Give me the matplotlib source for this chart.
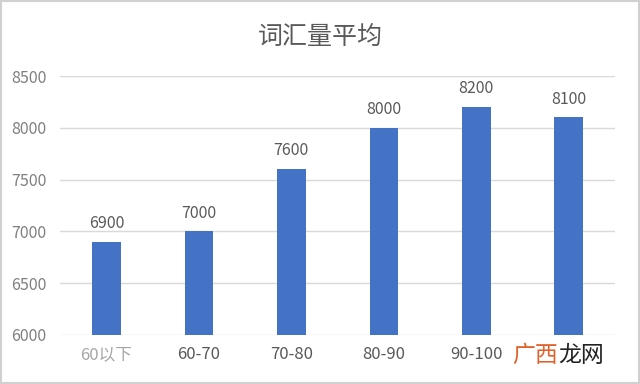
import matplotlib
matplotlib.use("Agg")
import matplotlib.pyplot as plt
from matplotlib.patches import Rectangle

plt.rcParams['font.family'] = ['Noto Sans CJK SC', 'DejaVu Sans']
plt.rcParams['font.weight'] = 'light'

# data
categories = ["60以下", "60-70", "70-80", "80-90", "90-100", "100以上"]
values = [6900, 7000, 7600, 8000, 8200, 8100]
yticks = [6000, 6500, 7000, 7500, 8000, 8500]

bar_color = "#4472C4"
grid_color = "#D9D9D9"
text_color = "#595959"

fig = plt.figure(figsize=(6.4, 3.84), dpi=100)
ax = fig.add_axes([0.094, 0.128, 0.867, 0.674])

x = range(len(categories))
ax.bar(x, values, width=0.31, color=bar_color, zorder=3)
for i, v in zip(x, values):
    ax.annotate(str(v), (i, v), xytext=(0, 7), textcoords="offset points",
                ha="center", va="bottom", fontsize=11.5, color=text_color)

ax.set_ylim(6000, 8500)
ax.set_yticks(yticks)
ax.set_xlim(-0.5, len(categories) - 0.5)
ax.set_xticks(list(x))
ax.set_xticklabels(categories, fontsize=12, color=text_color)
ax.get_xticklabels()[0].set_color("#A6A6A6")
# last label is covered by the watermark in the original
ax.get_xticklabels()[-1].set_visible(False)
ax.tick_params(axis="y", labelsize=11.5, labelcolor="#7F7F7F", length=0, pad=10)
ax.tick_params(axis="x", length=0, pad=8)
ax.grid(axis="y", color=grid_color, linewidth=1, zorder=0)
for s in ax.spines.values():
    s.set_visible(False)

fig.text(0.5, 0.905, "词汇量平均", ha="center", va="center", fontsize=18, color=text_color)

# border around the chart
fig.patches.append(Rectangle((0.002, 0.003), 0.996, 0.994, transform=fig.transFigure,
                             fill=False, edgecolor="#D0D0D0", linewidth=1.5))

# watermark
fig.text(0.800, 0.075, "广西", ha="left", va="center", fontsize=16.5, color="#E0622A")
fig.text(0.872, 0.075, "龙网", ha="left", va="center", fontsize=16.5, color="#222222")

fig.savefig("out.png", dpi=100)
